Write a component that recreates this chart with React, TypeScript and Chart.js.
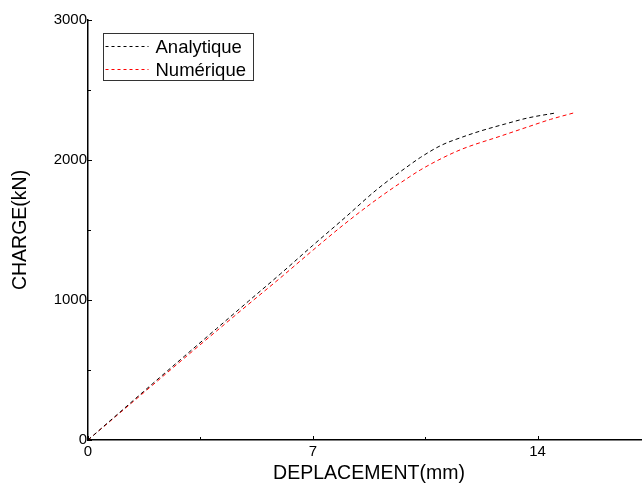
import { useEffect, useRef } from "react";
import { Chart, registerables } from "chart.js";

Chart.register(...registerables);

// Load–displacement curves (displacement in mm, load in kN)
const analytiqueX = [0, 1, 2, 3, 4, 5, 6, 7, 8, 9, 10, 10.35, 11, 11.66, 12.22, 13, 13.69, 14.56];
const analytiqueY = [0, 200, 400, 598, 795, 992, 1188, 1390, 1588, 1790, 1962, 2018, 2105, 2164, 2207, 2258, 2300, 2336];

const numeriqueX = [0, 1, 2, 3, 4, 5, 6, 7, 8, 9, 10, 10.35, 11, 11.66, 12.85, 13.69, 14.4, 15.12];
const numeriqueY = [0, 195, 390, 585, 778, 970, 1160, 1355, 1545, 1720, 1878, 1929, 2010, 2079, 2171, 2236, 2290, 2336];

const seriesLabels = ["Analytique", "Numérique"];
const seriesColors = ["#000000", "#ff0000"];

const xTickValues = [0, 7, 14];
const xMinorTicks = [3.5, 10.5, 17.5];
const yTickValues = [0, 1000, 2000, 3000];
const yMinorTicks = [500, 1500, 2500];

const xTitle = "DEPLACEMENT(mm)";
const yTitle = "CHARGE(kN)";

const FONT = "'Liberation Sans', Arial, Helvetica, sans-serif";

const toPoints = (xs: number[], ys: number[]) => xs.map((x, i) => ({ x, y: ys[i] }));

// Small inward tick marks along both axes
const innerTicks = {
  id: "innerTicks",
  afterDraw(chart: any) {
    const { ctx, chartArea, scales } = chart;
    const x = scales.x;
    const y = scales.y;
    ctx.save();
    ctx.strokeStyle = "#000";
    ctx.lineWidth = 1;
    const drawY = (v: number, len: number) => {
      const py = Math.round(y.getPixelForValue(v)) + 0.5;
      ctx.beginPath();
      ctx.moveTo(chartArea.left, py);
      ctx.lineTo(chartArea.left + len, py);
      ctx.stroke();
    };
    const drawX = (v: number, len: number) => {
      const px = Math.round(x.getPixelForValue(v)) + 0.5;
      ctx.beginPath();
      ctx.moveTo(px, chartArea.bottom);
      ctx.lineTo(px, chartArea.bottom - len);
      ctx.stroke();
    };
    yTickValues.forEach((v) => drawY(v, 4));
    yMinorTicks.forEach((v) => drawY(v, 3));
    xTickValues.forEach((v) => drawX(v, 4));
    xMinorTicks.forEach((v) => drawX(v, 3));
    ctx.restore();
  },
};

// Boxed legend in the upper-left corner of the plot
const insetLegend = {
  id: "insetLegend",
  afterDraw(chart: any) {
    const { ctx } = chart;
    const left = 103.5;
    const top = 33.5;
    const w = 150;
    const h = 47;
    ctx.save();
    ctx.fillStyle = "#fff";
    ctx.fillRect(left, top, w, h);
    ctx.strokeStyle = "#333";
    ctx.lineWidth = 1;
    ctx.strokeRect(left, top, w, h);
    ctx.font = `18.5px ${FONT}`;
    ctx.textBaseline = "middle";
    ctx.textAlign = "left";
    chart.data.datasets.forEach((ds: any, i: number) => {
      const cy = Math.round(top + 12 + i * 23) + 0.5;
      ctx.strokeStyle = ds.borderColor;
      ctx.lineWidth = 1;
      ctx.setLineDash([3, 3]);
      ctx.beginPath();
      ctx.moveTo(left + 2, cy);
      ctx.lineTo(left + 45, cy);
      ctx.stroke();
      ctx.setLineDash([]);
      ctx.fillStyle = "#000";
      ctx.fillText(ds.label, left + 52, cy + 1);
    });
    ctx.restore();
  },
};

export default function App() {
  const canvasRef = useRef<HTMLCanvasElement | null>(null);

  useEffect(() => {
    if (!canvasRef.current) return;
    const chart = new Chart(canvasRef.current, {
      type: "line",
      data: {
        datasets: [
          {
            label: seriesLabels[0],
            data: toPoints(analytiqueX, analytiqueY),
            borderColor: seriesColors[0],
            borderWidth: 1,
            borderDash: [4, 3],
            pointRadius: 0,
            cubicInterpolationMode: "monotone",
            fill: false,
          },
          {
            label: seriesLabels[1],
            data: toPoints(numeriqueX, numeriqueY),
            borderColor: seriesColors[1],
            borderWidth: 1,
            borderDash: [4, 3],
            pointRadius: 0,
            cubicInterpolationMode: "monotone",
            fill: false,
          },
        ],
      },
      options: {
        responsive: false,
        animation: false,
        events: [],
        layout: { padding: { top: 20, right: 0, bottom: 0, left: 0 } },
        plugins: {
          legend: { display: false },
          tooltip: { enabled: false },
        },
        scales: {
          x: {
            type: "linear",
            min: 0,
            max: 17.5,
            afterBuildTicks: (s: any) => {
              s.ticks = xTickValues.map((v) => ({ value: v }));
            },
            afterFit: (s: any) => {
              s.height = 45;
            },
            grid: { display: false, drawTicks: false },
            border: { display: true, color: "#000", width: 1.5 },
            ticks: {
              padding: 3,
              color: "#000",
              maxRotation: 0,
              autoSkip: false,
              font: { size: 15, family: FONT },
              callback: (v: any) => String(v),
            },
            title: {
              display: true,
              text: xTitle,
              color: "#000",
              font: { size: 19.5, family: FONT },
              padding: { top: 0, bottom: 0 },
            },
          },
          y: {
            type: "linear",
            min: 0,
            max: 3000,
            afterBuildTicks: (s: any) => {
              s.ticks = yTickValues.map((v) => ({ value: v }));
            },
            afterFit: (s: any) => {
              s.width = 88;
            },
            grid: { display: false, drawTicks: false },
            border: { display: true, color: "#000", width: 1.5 },
            ticks: {
              padding: 1,
              color: "#000",
              autoSkip: false,
              font: { size: 15, family: FONT },
              callback: (v: any) => String(v),
            },
            title: {
              display: true,
              text: yTitle,
              color: "#000",
              font: { size: 19.5, family: FONT },
              padding: { top: 9, bottom: 0 },
            },
          },
        },
      },
      plugins: [innerTicks, insetLegend],
    });
    return () => chart.destroy();
  }, []);

  return (
    <div
      style={{
        position: "fixed",
        left: 0,
        top: 0,
        width: 642,
        height: 485,
        overflow: "hidden",
        background: "#fff",
      }}
    >
      <canvas ref={canvasRef} width={650} height={485} style={{ display: "block" }} />
    </div>
  );
}
